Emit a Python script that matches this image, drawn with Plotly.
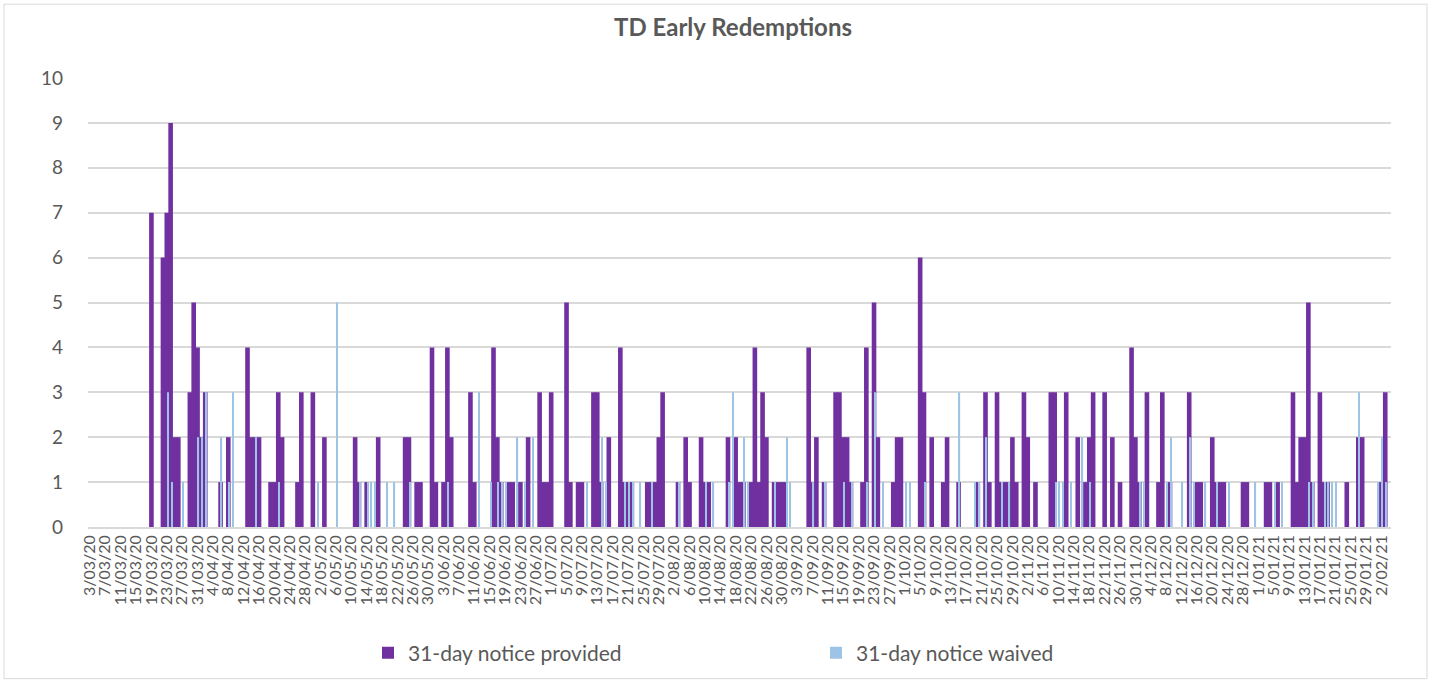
import plotly.graph_objects as go
import pandas as pd

# ---- daily counts, 3/03/20 .. 4/02/21 (one list per month) ----
provided_mar = [0,0,0,0,0,0,0,0,0,0,0,0,0,0,0,0, 7,0,0,6,7,9,2,2,0,0,3,5,4]
waived_mar   = [0,0,0,0,0,0,0,0,0,0,0,0,0,0,0,0, 0,0,0,0,3,1,0,0,1,0,0,0,2]
provided_apr = [2,3,0,0,0,1,0,2,0,0, 0,0,4,2,2,2,0,0,1,1, 3,2,0,0,0,1,3,0,0,3]
waived_apr   = [2,3,0,0,0,2,0,1,3,0, 0,0,0,0,2,0,0,0,0,0, 1,0,0,0,0,0,0,0,0,0]
provided_may = [0,0,2,0,0,0,0,0,0,0, 2,1,0,1,0,0,2,0,0,0, 0,0,0,2,2,0,1,1,0,0, 4]
waived_may   = [1,0,0,0,0,5,0,0,0,0, 0,1,0,1,1,1,0,0,1,0, 1,0,0,0,1,0,0,0,0,0, 0]
provided_jun = [1,0,1,4,2,0,0,0,0,3, 1,0,0,0,0,4,2,1,0,1, 1,0,1,0,2,0,0,3,1,1]
waived_jun   = [0,0,0,1,0,0,0,0,0,0, 0,3,0,0,1,0,1,1,1,0, 0,2,0,1,0,2,0,0,0,0]
provided_jul = [3,0,0,0,5,1,0,1,1,0, 0,3,3,1,0,2,0,0,4,1, 1,1,0,0,0,1,1,1,2,3, 0]
waived_jul   = [0,0,0,0,0,0,0,0,0,1, 0,0,0,2,1,0,0,0,0,1, 1,1,0,1,0,0,1,0,0,0, 0]
provided_aug = [0,0,1,0,2,1,0,0,2,1, 1,0,0,0,0,2,0,2,1,1, 0,1,4,1,3,2,0,1,1,1, 1]
waived_aug   = [0,0,1,0,0,0,0,0,0,1, 0,1,0,0,0,1,3,0,0,2, 1,0,0,0,0,0,0,1,0,0, 2]
provided_sep = [0,0,0,0,0,4,1,2,0,1, 0,0,3,3,2,2,1,0,0,1, 4,0,5,2,0,0,0,1,2,2]
waived_sep   = [1,0,0,0,0,0,1,0,0,1, 0,0,0,0,1,0,1,0,0,0, 1,0,3,0,1,0,0,0,0,0]
provided_oct = [0,0,0,0,6,3,0,2,0,0, 1,2,0,0,1,0,0,0,0,1, 0,3,1,0,3,1,1,1,2,1, 0]
waived_oct   = [1,1,0,0,0,1,0,0,0,0, 0,0,0,0,3,0,0,0,1,1, 0,2,0,0,0,1,0,1,0,0, 0]
provided_nov = [3,2,0,1,0,0,0,3,3,0, 0,3,0,0,2,0,1,2,3,0, 0,3,0,2,0,1,0,0,4,2]
waived_nov   = [0,0,0,0,0,0,0,0,1,1, 1,0,1,0,0,2,0,1,0,0, 0,0,0,0,0,0,0,0,0,0]
provided_dec = [1,0,3,0,0,1,3,0,1,0, 0,0,0,3,0,1,1,0,0,2, 1,1,1,0,0,0,0,1,1,0, 0]
waived_dec   = [1,1,0,0,0,0,0,1,2,0, 0,1,0,2,1,0,0,1,0,0, 1,0,0,1,0,0,0,0,0,0, 1]
provided_jan = [0,0,1,1,0,1,0,0,0,3, 1,2,2,5,1,0,3,1,1,0, 0,0,0,1,0,0,2,2,0,0, 0]
waived_jan   = [0,0,0,0,1,0,1,0,0,0, 0,0,0,1,1,0,0,1,1,1, 1,0,0,0,0,0,3,0,0,0, 0]
provided_feb = [0,1,3,0]
waived_feb   = [1,2,1,0]

provided = (provided_mar + provided_apr + provided_may + provided_jun + provided_jul +
            provided_aug + provided_sep + provided_oct + provided_nov + provided_dec +
            provided_jan + provided_feb)
waived = (waived_mar + waived_apr + waived_may + waived_jun + waived_jul +
          waived_aug + waived_sep + waived_oct + waived_nov + waived_dec +
          waived_jan + waived_feb)

dates = pd.date_range("2020-03-03", "2021-02-04", freq="D")
categories = [f"{d.day}/{d.month:02d}/{d.year % 100:02d}" for d in dates]
tick_labels = categories[::4]
y_ticks = list(range(0, 11))

PURPLE = "#7030A0"
BLUE = "#9DC3E6"
GREY = "#595959"
FONT = "Lato, 'Open Sans', sans-serif"

fig = go.Figure()
fig.add_trace(go.Bar(x=categories, y=provided, name="31-day notice provided",
                     marker=dict(color=PURPLE, line=dict(width=0)),
                     width=1.2, offset=-0.6))
fig.add_trace(go.Bar(x=categories, y=waived, name="31-day notice waived",
                     marker=dict(color=BLUE, line=dict(width=0)),
                     width=0.3, offset=0.1))

L, R, T, B = 88, 41, 78, 156
W, H = 1432, 684
pw, ph = W - L - R, H - T - B

fig.update_layout(
    width=W, height=H,
    margin=dict(l=L, r=R, t=T, b=B, pad=0),
    barmode="overlay",
    paper_bgcolor="white", plot_bgcolor="white",
    font=dict(family=FONT, color=GREY),
    title=dict(text="<b>TD Early Redemptions</b>", x=733 / W, xref="container",
               y=1 - 28 / H, yanchor="middle", xanchor="center",
               font=dict(size=24, color=GREY, family=FONT)),
    showlegend=True,
    legend=dict(orientation="h", x=(368 - L) / pw, y=(H - B - 653) / ph,
                xanchor="left", yanchor="middle",
                font=dict(size=21, color=GREY, family=FONT),
                entrywidth=403, entrywidthmode="pixels",
                bgcolor="rgba(0,0,0,0)"),
    xaxis=dict(type="category", categoryorder="array", categoryarray=categories,
               range=[-0.5, len(categories) - 0.5],
               tickmode="array", tickvals=tick_labels, ticktext=tick_labels,
               tickangle=-90, tickfont=dict(size=16, color=GREY, family=FONT),
               showgrid=False, showline=True, linecolor="#d9d9d9", linewidth=1.5,
               ticks="", fixedrange=True),
    yaxis=dict(range=[0, 10], tickmode="array", tickvals=y_ticks,
               tickfont=dict(size=19, color=GREY, family=FONT),
               showgrid=True, gridcolor="#d9d9d9", gridwidth=1.5,
               zeroline=False, showline=False, ticks="",
               ticklabelstandoff=24),
)

fig.add_shape(type="rect", xref="paper", yref="paper",
              x0=(4 - L) / pw, x1=(1427 - L) / pw,
              y0=(H - B - 680) / ph, y1=(H - B - 4) / ph,
              line=dict(color="#d9d9d9", width=1), fillcolor="rgba(0,0,0,0)",
              layer="below")

fig.write_html("out.html", config={"displayModeBar": False},
               post_script="document.body.style.margin='0';")
